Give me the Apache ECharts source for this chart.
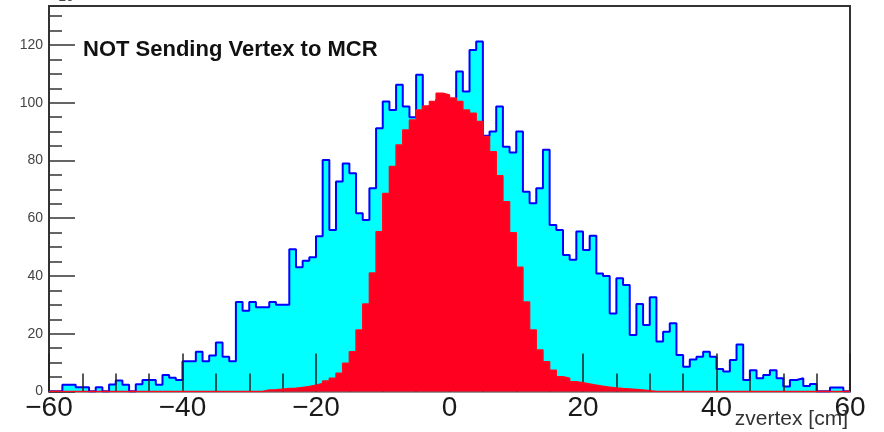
<!DOCTYPE html>
<html><head><meta charset="utf-8">
<script src="https://cdn.jsdelivr.net/npm/echarts@6/dist/echarts.min.js"></script>
<style>html,body{margin:0;padding:0;background:#fff}#c{width:884px;height:432px}</style>
</head><body><div id="c"></div>
<script>
// histogram binning (1 cm bins from -60 to 60)
const BIN_START = -60;
const BIN_WIDTH = 1;
// all vertices (cyan, x10^3 entries per bin)
const allVertex = [
  0, 0, 2.3, 2.3, 1.5, 1.5, 0, 1.5, 0, 2.4,
  3.8, 2.3, 0, 2.5, 4, 4, 2.3, 5.7, 4.8, 4,
  10.5, 10.5, 13.8, 10.5, 12.5, 17, 12, 10.5, 31, 28,
  31, 29.2, 29.2, 31, 30, 30, 49.3, 43, 45.3, 46.5,
  53.8, 80.2, 55.9, 72.7, 79, 75.6, 61.7, 59.4, 70.4, 91.2,
  100.4, 97.5, 106.2, 98.7, 95, 109.7, 97, 99, 101, 100,
  99, 110.8, 103.9, 118.3, 121.2, 88.6, 90, 98.7, 84.8, 82.8,
  90, 69.2, 65.2, 70.4, 83.7, 57.7, 55.9, 47.3, 45.6, 55.4,
  49, 53.9, 40.9, 40, 27, 39.2, 36.9, 19.6, 30.3, 23,
  32.6, 17.3, 20.7, 23.6, 12.6, 8.6, 11.1, 12, 13.8, 12,
  7.8, 6.9, 10.9, 16.3, 4, 7.4, 4.6, 5.7, 7.4, 4.6,
  1.7, 4, 4.6, 1.9, 2.6, 0, 0, 1.4, 1.4, 0
];
// vertices sent to MCR (red)
const sentVertex = [
  0, 0, 0, 0, 0, 0, 0, 0, 0, 0,
  0, 0, 0, 0, 0, 0, 0, 0, 0, 0,
  0, 0, 0, 0, 0, 0, 0, 0, 0, 0,
  0, 0, 0.5, 0.6, 0.8, 1.0, 1.1, 1.4, 1.7, 2.2,
  2.8, 3.6, 4.6, 6.3, 9.8, 13.8, 21.3, 30.3, 41, 55.3,
  68.6, 77.9, 85.4, 90.6, 94, 97.5, 98.9, 100.4, 103.3, 102.7,
  101.6, 100.4, 97.5, 96.4, 93.5, 88.3, 83, 74.7, 65.7, 55,
  43, 31, 21.3, 14.4, 10.3, 7.4, 5.1, 4.6, 3.4, 3.0,
  2.6, 2.2, 1.8, 1.5, 1.2, 1.0, 0.9, 0.7, 0.5, 0.3,
  0, 0, 0, 0, 0, 0, 0, 0, 0, 0,
  0, 0, 0, 0, 0, 0, 0, 0, 0, 0,
  0, 0, 0, 0, 0, 0, 0, 0, 0, 0
];
const titleText = 'NOT Sending Vertex to MCR';
const xTitle = 'zvertex [cm]';
const yScaleText = '\u00d710\u00b3';

function toSteps(vals) {
  const pts = vals.map((v, i) => [BIN_START + i * BIN_WIDTH, v]);
  pts.push([BIN_START + vals.length * BIN_WIDTH, vals[vals.length - 1]]);
  return pts;
}

const chart = echarts.init(document.getElementById('c'));
const FONT = 'Liberation Sans';
chart.setOption({
  animation: false,
  backgroundColor: '#fff',
  grid: { left: 49, top: 6, right: 34, bottom: 40.5, show: true, borderColor: '#333', borderWidth: 2, backgroundColor: 'transparent', z: 0 },
  xAxis: {
    type: 'value', min: -60, max: 60, interval: 20, z: 3,
    axisLine: { show: true, onZero: false, lineStyle: { color: '#666', width: 1 } },
    axisTick: { show: true, inside: true, length: 38, lineStyle: { color: '#222', width: 1.5 } },
    minorTick: { show: true, splitNumber: 4, length: 18, lineStyle: { color: '#222', width: 1.5 } },
    splitLine: { show: false },
    axisLabel: { margin: 3, fontFamily: FONT, fontSize: 28, lineHeight: 28, color: '#1a1a1a',
      formatter: v => String(v).replace('-', '\u2212') }
  },
  yAxis: {
    type: 'value', min: 0, max: 133.5, interval: 20, z: 3,
    axisLine: { show: true, onZero: false, lineStyle: { color: '#333', width: 2 } },
    axisTick: { show: true, inside: true, length: 26, lineStyle: { color: '#333', width: 1.5 } },
    minorTick: { show: true, splitNumber: 4, length: 13, lineStyle: { color: '#333', width: 1.5 } },
    splitLine: { show: false },
    axisLabel: { margin: 6, fontFamily: FONT, fontSize: 14, color: '#444',
      formatter: v => (v > 130 ? '' : String(v)) }
  },
  series: [
    { type: 'line', name: 'all', data: toSteps(allVertex), step: 'end', symbol: 'none', z: 2,
      lineStyle: { color: '#0000ff', width: 2 }, areaStyle: { color: '#00ffff', opacity: 1 } },
    { type: 'line', name: 'sent', data: toSteps(sentVertex), step: 'end', symbol: 'none', z: 4,
      lineStyle: { color: '#ff0a1e', width: 1.5 }, areaStyle: { color: '#ff0020', opacity: 1 } }
  ],
  graphic: [
    { type: 'text', z: 10, style: { x: 83, y: 49.5, text: titleText, font: 'bold 22px "Liberation Sans"', fill: '#111', verticalAlign: 'middle' } },
    { type: 'text', z: 10, style: { x: 848, y: 419.5, text: xTitle, font: '21px "Liberation Sans"', fill: '#333', align: 'right', verticalAlign: 'middle' } },
    { type: 'text', z: 10, style: { x: 50, y: -3, text: yScaleText, font: '14px "Liberation Sans"', fill: '#444', verticalAlign: 'middle' } }
  ]
});
</script>
</body></html>
